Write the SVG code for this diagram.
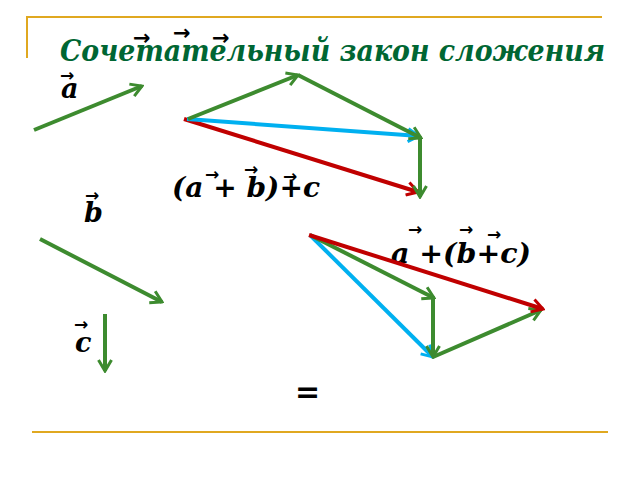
<svg xmlns="http://www.w3.org/2000/svg" width="640" height="480" viewBox="0 0 640 480">
<style>
.frame{stroke:#e0a820;stroke-width:2;fill:none}
.v{fill:none;stroke-width:4;stroke-linecap:butt}
.g{stroke:#3d8b2f}
.b{stroke:#00b0f0}
.r{stroke:#c00000}
.lbl{font-family:"DejaVu Serif",serif;font-weight:bold;font-style:italic;font-size:27px;fill:#000}
.arr{font-family:"DejaVu Sans",sans-serif;font-weight:bold;font-size:17px;fill:#000}
.tarr{font-size:21px}
.title{font-family:"DejaVu Serif",serif;font-weight:bold;font-style:italic;font-size:29px;fill:#006633}
</style>
<defs>
<marker id="mg" markerUnits="userSpaceOnUse" markerWidth="16" markerHeight="16" refX="14" refY="8" orient="auto" viewBox="0 0 16 16"><path d="M3,1.5 L14,8 L3,14.5" fill="none" stroke="#3d8b2f" stroke-width="3"/></marker>
<marker id="mb" markerUnits="userSpaceOnUse" markerWidth="16" markerHeight="16" refX="14" refY="8" orient="auto" viewBox="0 0 16 16"><path d="M3,1.5 L14,8 L3,14.5" fill="none" stroke="#00b0f0" stroke-width="3"/></marker>
<marker id="mr" markerUnits="userSpaceOnUse" markerWidth="16" markerHeight="16" refX="14" refY="8" orient="auto" viewBox="0 0 16 16"><path d="M3,1.5 L14,8 L3,14.5" fill="none" stroke="#c00000" stroke-width="3"/></marker>
</defs>
<g id="frame">
<path class="frame" d="M27,58 L27,17 L602,17"/>
<path class="frame" d="M32,432 L608,432"/>
</g>
<g id="title">
<text class="title" x="60" y="61" textLength="545" lengthAdjust="spacingAndGlyphs">Сочетательный закон сложения</text>
<text class="arr tarr" x="133" y="45">→</text>
<text class="arr tarr" x="173" y="40">→</text>
<text class="arr tarr" x="212" y="45">→</text>
</g>
<g id="labels">
<text class="lbl" x="61" y="98">a</text>
<text class="arr" x="60" y="81">→</text>
<text class="lbl" x="84" y="222">b</text>
<text class="arr" x="85" y="201">→</text>
<text class="lbl" x="75" y="352">c</text>
<text class="arr" x="74" y="330">→</text>
<text class="lbl" x="172" y="197" textLength="148" lengthAdjust="spacingAndGlyphs">(a + b)+c</text>
<text class="arr" x="205" y="180">→</text>
<text class="arr" x="244" y="175">→</text>
<text class="arr" x="283" y="182">→</text>
<text class="lbl" x="391" y="263" textLength="140" lengthAdjust="spacingAndGlyphs">a +(b+c)</text>
<text class="arr" x="408" y="235">→</text>
<text class="arr" x="459" y="235">→</text>
<text class="arr" x="487" y="240">→</text>
<text class="lbl" x="295" y="402" style="font-style:normal;font-family:'DejaVu Sans',sans-serif;font-size:30px">=</text>
</g>
<g id="connectors">
<line class="v g" x1="34" y1="130" x2="142" y2="86" marker-end="url(#mg)"/>
<line class="v g" x1="40" y1="239" x2="162" y2="302" marker-end="url(#mg)"/>
<line class="v g" x1="105" y1="314" x2="105" y2="371" marker-end="url(#mg)"/>
<line class="v r" x1="184" y1="119" x2="418" y2="192" marker-end="url(#mr)"/>
<line class="v b" x1="187" y1="119" x2="419" y2="136" marker-end="url(#mb)"/>
<line class="v g" x1="188" y1="119" x2="298" y2="75" marker-end="url(#mg)"/>
<line class="v g" x1="298" y1="75" x2="421" y2="138" marker-end="url(#mg)"/>
<line class="v g" x1="420" y1="138" x2="420" y2="197" marker-end="url(#mg)"/>
<line class="v b" x1="310" y1="235" x2="433" y2="357" marker-end="url(#mb)"/>
<line class="v g" x1="310" y1="235" x2="434" y2="298" marker-end="url(#mg)"/>
<line class="v g" x1="433" y1="298" x2="433" y2="357" marker-end="url(#mg)"/>
<line class="v g" x1="433" y1="357" x2="541" y2="310" marker-end="url(#mg)"/>
<line class="v r" x1="309" y1="235" x2="543" y2="309" marker-end="url(#mr)"/>
</g>
</svg>
